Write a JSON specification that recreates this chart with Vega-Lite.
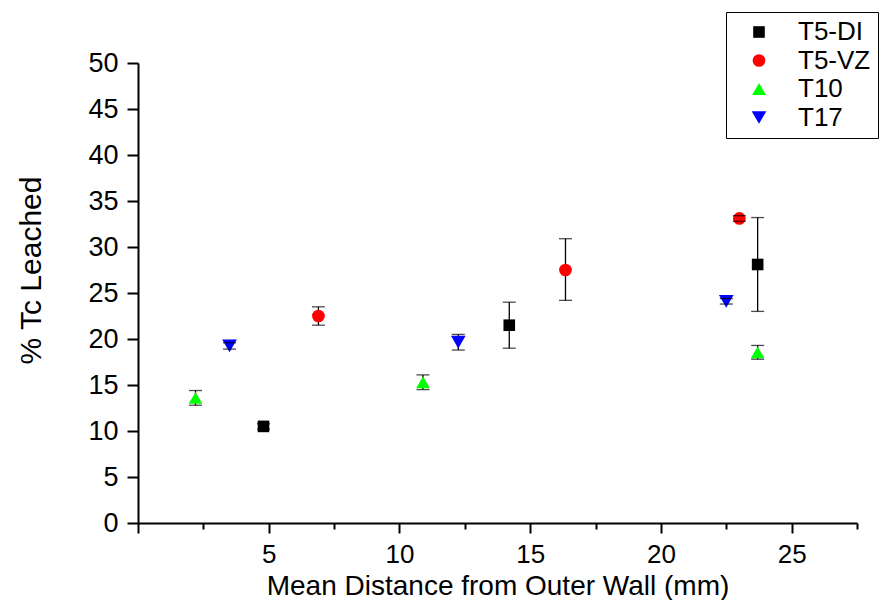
{
  "$schema": "https://vega.github.io/schema/vega-lite/v6.json",
  "width": 719,
  "height": 460,
  "autosize": {"type": "none"},
  "padding": {"left": 138, "top": 63, "right": 26, "bottom": 77},
  "background": "white",
  "config": {"view": {"stroke": null}, "font": "Liberation Sans"},
  "data": {
    "values": [
      {"series": "T5-DI", "x": 4.8, "y": 10.5, "lo": 10.2, "hi": 10.8},
      {"series": "T5-DI", "x": 14.2, "y": 21.5, "lo": 19.0, "hi": 24.0},
      {"series": "T5-DI", "x": 23.7, "y": 28.1, "lo": 23.0, "hi": 33.2},
      {"series": "T5-VZ", "x": 6.9, "y": 22.5, "lo": 21.5, "hi": 23.5},
      {"series": "T5-VZ", "x": 16.35, "y": 27.5, "lo": 24.2, "hi": 30.9},
      {"series": "T5-VZ", "x": 23.0, "y": 33.1, "lo": 32.8, "hi": 33.4},
      {"series": "T10", "x": 2.2, "y": 13.6, "lo": 12.8, "hi": 14.4},
      {"series": "T10", "x": 10.9, "y": 15.3, "lo": 14.5, "hi": 16.1},
      {"series": "T10", "x": 23.7, "y": 18.55, "lo": 17.8, "hi": 19.3},
      {"series": "T17", "x": 3.5, "y": 19.25, "lo": 18.9, "hi": 19.6},
      {"series": "T17", "x": 12.25, "y": 19.65, "lo": 18.8, "hi": 20.5},
      {"series": "T17", "x": 22.5, "y": 24.1, "lo": 23.8, "hi": 24.4}
    ]
  },
  "encoding": {
    "x": {
      "field": "x", "type": "quantitative",
      "scale": {"domain": [0, 27.5], "nice": false, "zero": false},
      "axis": {
        "title": "Mean Distance from Outer Wall (mm)",
        "values": [0, 2.5, 5, 7.5, 10, 12.5, 15, 17.5, 20, 22.5, 25, 27.5],
        "labelExpr": "datum.value % 5 === 0 && datum.value > 0 ? datum.label : ''",
        "grid": false,
        "domainColor": "black", "domainWidth": 2,
        "tickColor": "black", "tickWidth": 2,
        "tickSize": {"condition": {"test": "datum.value % 5 !== 0", "value": 6}, "value": 10},
        "labelFontSize": 26, "labelColor": "black", "labelPadding": 8,
        "labelOverlap": false, "labelFlush": false,
        "titleFontSize": 28, "titleFontWeight": "normal", "titleColor": "black",
        "titleY": 71, "titleBaseline": "alphabetic"
      }
    }
  },
  "layer": [
    {
      "mark": {"type": "rule", "color": "black", "strokeWidth": 1.3},
      "encoding": {
        "y": {
          "field": "lo", "type": "quantitative",
          "scale": {"domain": [0, 50], "nice": false, "zero": false},
          "axis": {
            "title": "% Tc Leached",
            "values": [0, 2.5, 5, 7.5, 10, 12.5, 15, 17.5, 20, 22.5, 25, 27.5, 30, 32.5, 35, 37.5, 40, 42.5, 45, 47.5, 50],
            "labelExpr": "datum.value % 5 === 0 ? datum.label : ''",
            "grid": false,
            "domainColor": "black", "domainWidth": 2,
            "tickColor": "black", "tickWidth": 2,
            "tickSize": {"condition": {"test": "datum.value % 5 !== 0", "value": 6}, "value": 11},
            "labelFontSize": 27, "labelColor": "black", "labelPadding": 9,
            "labelOverlap": false, "labelFlush": false,
            "titleFontSize": 30, "titleFontWeight": "normal", "titleColor": "black",
            "titleX": -98, "titleY": 207, "titleAngle": -90, "titleAlign": "center", "titleBaseline": "alphabetic"
          }
        },
        "y2": {"field": "hi"}
      }
    },
    {
      "mark": {"type": "point", "filled": true, "opacity": 1},
      "encoding": {
        "y": {"field": "y", "type": "quantitative", "title": "% Tc Leached"},
        "color": {
          "field": "series", "type": "nominal",
          "scale": {"domain": ["T5-DI", "T5-VZ", "T10", "T17"], "range": ["#000000", "#ff0000", "#00ff00", "#0000ff"]},
          "legend": {
            "title": null, "orient": "none", "legendX": 588, "legendY": -51,
            "strokeColor": "black", "fillColor": "white", "padding": 7,
            "symbolOffset": 13, "labelOffset": 26, "symbolSize": 160,
            "labelFontSize": 26, "labelColor": "black", "rowPadding": 2.5
          }
        },
        "shape": {
          "field": "series", "type": "nominal",
          "scale": {"domain": ["T5-DI", "T5-VZ", "T10", "T17"], "range": ["square", "circle", "triangle-up", "triangle-down"]}
        },
        "size": {
          "field": "series", "type": "nominal",
          "scale": {"domain": ["T5-DI", "T5-VZ", "T10", "T17"], "range": [135, 215, 300, 260]},
          "legend": null
        }
      }
    },
    {
      "mark": {"type": "tick", "orient": "horizontal", "color": "black", "thickness": 1.3, "size": 13},
      "encoding": {
        "y": {"field": "lo", "type": "quantitative", "title": "% Tc Leached"}
      }
    },
    {
      "mark": {"type": "tick", "orient": "horizontal", "color": "black", "thickness": 1.3, "size": 13},
      "encoding": {
        "y": {"field": "hi", "type": "quantitative", "title": "% Tc Leached"}
      }
    }
  ]
}
